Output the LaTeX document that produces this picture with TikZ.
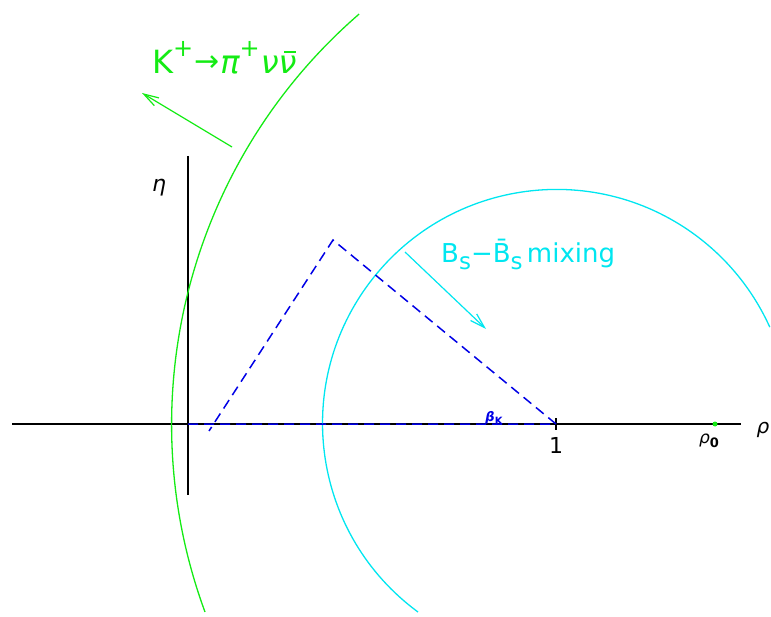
\documentclass[tikz,border=0pt]{standalone}
\usepackage{fontspec}
\setmainfont{DejaVu Sans}
\usetikzlibrary{arrows.meta}
\definecolor{pgreen}{RGB}{20,235,20}
\definecolor{pcyan}{RGB}{0,230,240}
\definecolor{pblue}{RGB}{0,0,230}
\tikzset{
  axisline/.style={black,line width=1.4pt},
  bluedash/.style={pblue,line width=1.5pt,dash pattern=on 10pt off 6pt},
  barb/.style={-{Straight Barb[length=15pt,width=9pt]},line width=1.2pt},
  lbl/.style={inner sep=0pt}
}
\newcommand{\fsz}[1]{\fontsize{#1}{#1}\selectfont}
\newcommand{\nubar}{\rlap{\kern0.17em\rule[0.66em]{0.36em}{0.06em}}ν}
\begin{document}
\begin{tikzpicture}[x=1pt,y=1pt,yscale=-1]
\useasboundingbox (0,0) rectangle (771,617);
% axes
\coordinate (xl) at (12,424);
\coordinate (xr) at (741,424);
\coordinate (yt) at (188,156);
\coordinate (yb) at (188,495);
\draw[axisline] (xl) -- (xr);
\draw[axisline] (yt) -- (yb);
\coordinate (tk1) at (556,418);
\coordinate (tk2) at (556,430);
\draw[axisline] (tk1) -- (tk2);
% circles
\draw[pgreen,line width=1.3pt] (205,612) arc[start angle=159.8,end angle=229.1,radius=543];
\draw[pcyan,line width=1.3pt] (418,612) arc[start angle=126.3,end angle=335.7,radius=234];
% triangle
\coordinate (apex) at (333,240);
\coordinate (one) at (556,424);
\coordinate (orig) at (188,424);
\coordinate (lft) at (209,431);
\draw[bluedash] (orig) -- (one) -- (apex) -- (lft);
% arrows
\coordinate (ga1) at (232,147);
\coordinate (ga2) at (142,93);
\draw[pgreen,barb] (ga1) -- (ga2);
\coordinate (ca1) at (405,252);
\coordinate (ca2) at (486,329);
\draw[pcyan,barb] (ca1) -- (ca2);
% point rho0
\fill[pgreen] (715,424) circle (2.5);
% labels
\node[lbl,anchor=base west,text=pgreen,font=\fsz{32}] (klab) at (152,74)
  {K\raisebox{0.55em}{\fsz{24}+}\hspace{1pt}\raisebox{0.08em}{\fsz{30}→}\hspace{1pt}{\itshape π}\raisebox{0.55em}{\fsz{24}+}\hspace{1pt}{\itshape ν\nubar}};
\node[lbl,anchor=base west,text=pcyan,font=\fsz{26}] (blab) at (441,263)
  {B\raisebox{-0.25em}{\fsz{23}s}−\={B}\raisebox{-0.25em}{\fsz{23}s}\,mixing};
\node[lbl,font=\fsz{22}\itshape] (eta) at (159,188) {η};
\node[lbl,font=\fsz{20}\itshape] (rho) at (763,430) {ρ};
\node[lbl,font=\fsz{22}] (onel) at (556,445) {1};
\node[lbl,font=\fsz{17}] (rho0) at (709,441) {{\itshape ρ}\raisebox{-0.25em}{\fsz{13}\bfseries 0}};
\node[lbl,text=pblue,font=\fsz{13}\bfseries] (beta) at (494,418) {{\itshape β}\raisebox{-0.25em}{\fsz{10}K}};
\end{tikzpicture}
\end{document}
